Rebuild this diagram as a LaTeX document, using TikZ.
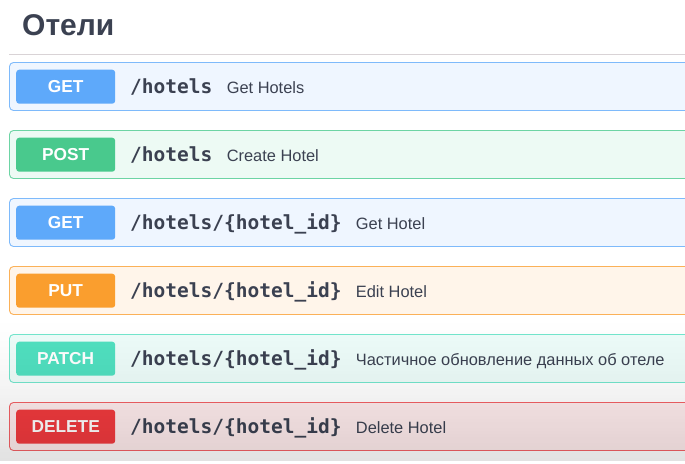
\documentclass[tikz,border=0pt]{standalone}
\usepackage{fontspec}
\setmainfont{Liberation Sans}
\newfontfamily\monofnt{DejaVu Sans Mono}
\definecolor{txt}{HTML}{3B4151}
\definecolor{cget}{HTML}{5EA9FA}
\definecolor{cpost}{HTML}{49C98D}
\definecolor{cput}{HTML}{FA9E2E}
\definecolor{cpatch}{HTML}{50E0C0}
\definecolor{cdel}{HTML}{F03A3E}
\definecolor{sepc}{HTML}{D9D3D6}
\tikzset{
  opbox/.style={draw=#1!80!white, line width=0.9pt, fill=#1!10!white, rounded corners=4pt},
  badge/.style={fill=#1, rounded corners=3pt, minimum width=99pt, minimum height=34pt,
     inner sep=0pt, text=white, font=\fontsize{17.3}{20}\selectfont\bfseries, anchor=north west},
  pathtxt/.style={anchor=base west, inner sep=0pt, text=txt, font=\fontsize{19.5}{23}\selectfont\monofnt\bfseries},
  desctxt/.style={anchor=base west, inner sep=0pt, text=txt, font=\fontsize{16.4}{19}\selectfont},
}
\begin{document}
\begin{tikzpicture}[x=1pt,y=-1pt]
\useasboundingbox (0,0) rectangle (685,463);
\clip (0,0) rectangle (685,463);
\fill[white] (0,0) rectangle (685,463);
\node[anchor=base west, inner sep=0pt, text=txt, font=\fontsize{30}{34}\selectfont\bfseries] (title) at (22,35) {Отели};
\coordinate (sepL) at (9,54.5);
\coordinate (sepR) at (690,54.5);
\draw[sepc, line width=1pt] (sepL) -- (sepR);
\foreach \i/\col/\meth/\p/\d in {
  0/cget/GET/{/hotels}/{Get Hotels},
  1/cpost/POST/{/hotels}/{Create Hotel},
  2/cget/GET/{/hotels/\{hotel\_id\}}/{Get Hotel},
  3/cput/PUT/{/hotels/\{hotel\_id\}}/{Edit Hotel},
  4/cpatch/PATCH/{/hotels/\{hotel\_id\}}/{Частичное обновление данных об отеле},
  5/cdel/DELETE/{/hotels/\{hotel\_id\}}/{Delete Hotel}}{
  \pgfmathsetmacro{\t}{62.5+68*\i}
  \draw[opbox=\col] (9.5,\t) rectangle (700,\t+48);
  \node[badge=\col] (b\i) at (16,\t+7) {\meth};
  \node[pathtxt] (p\i) at (130,\t+31) {\p};
  \node[desctxt] (d\i) at ([xshift=14pt]p\i.base east) {\d};
}
\foreach \k in {0,...,47}{
  \pgfmathsetmacro{\op}{0.115*((\k+1)/48)^1.4}
  \fill[black, fill opacity=\op] (0,317+3*\k) rectangle (685,320+3*\k);
}
\end{tikzpicture}
\end{document}
